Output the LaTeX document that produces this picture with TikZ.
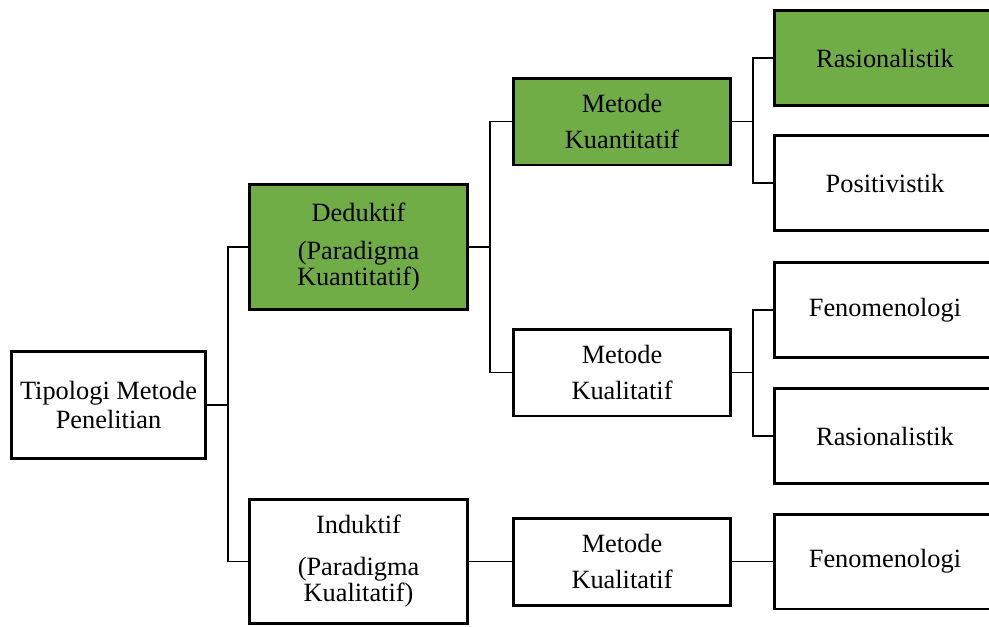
\documentclass[tikz,border=0pt]{standalone}
\usepackage{fontspec}
\setmainfont{Liberation Serif}
\definecolor{hijau}{RGB}{112,173,71}
\tikzset{
  kotak/.style={draw,line width=1.7pt,align=center,inner sep=0pt,
    font=\fontsize{15}{16}\selectfont},
  awal/.style={kotak,minimum width=3.88cm,minimum height=2.14cm},
  paradigma/.style={kotak,minimum width=4.36cm,minimum height=2.49cm},
  metode/.style={kotak,minimum width=4.34cm,minimum height=1.74cm},
  hasil/.style={kotak,minimum width=4.42cm,minimum height=1.9cm},
  garis/.style={line width=0.6pt}
}
\begin{document}
\begin{tikzpicture}[x=0.02cm,y=-0.02cm]
\pgfmathsetmacro{\ja}{228}
\pgfmathsetmacro{\jb}{490}
\pgfmathsetmacro{\jc}{753}
\useasboundingbox (0,0) rectangle (989,626);
\clip (0,0) rectangle (989,626);
%column 1
\node[awal] (tip) at (108.5,405) {Tipologi Metode\\Penelitian};
%column 2
\node[paradigma,fill=hijau] (ded) at (358.5,247) {Deduktif\\[6pt](Paradigma\\[-1.3pt]Kuantitatif)};
\node[paradigma] (ind) at (358.5,561.5) {Induktif\\[7.5pt](Paradigma\\[-0.8pt]Kualitatif)};
%column 3
\node[metode,fill=hijau] (kuan) at (622,121.5) {Metode\\[5pt]Kuantitatif};
\node[metode] (kualA) at (622,372.5) {Metode\\[5pt]Kualitatif};
\node[metode] (kualB) at (622,561.5) {Metode\\[5pt]Kualitatif};
%column 4
\node[hasil,fill=hijau] (rasA) at (885,58) {Rasionalistik};
\node[hasil] (pos) at (885,183) {Positivistik};
\node[hasil] (fenA) at (885,310) {Fenomenologi};
\node[hasil] (rasB) at (885,436) {Rasionalistik};
\node[hasil] (fenB) at (885,561.5) {Fenomenologi};
%
\coordinate (jA) at (\ja,405);
\coordinate (jB) at (\jb,247);
\coordinate (jC) at (\jc,121.5);
\coordinate (jD) at (\jc,372.5);
%lines
\draw[garis] (tip.east) -- (jA);
\draw[garis] (ded.west) -| (jA) |- (ind.west);
\draw[garis] (ded.east) -- (jB);
\draw[garis] (kuan.west) -| (jB) |- (kualA.west);
\draw[garis] (kuan.east) -- (jC);
\draw[garis] (rasA.west) -| (jC) |- (pos.west);
\draw[garis] (kualA.east) -- (jD);
\draw[garis] (fenA.west) -| (jD) |- (rasB.west);
\draw[garis] (ind.east) -- (kualB.west);
\draw[garis] (kualB.east) -- (fenB.west);
\end{tikzpicture}
\end{document}
